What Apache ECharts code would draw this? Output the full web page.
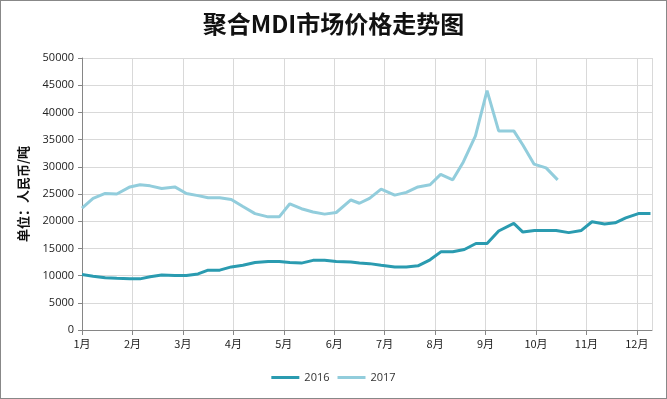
<!DOCTYPE html>
<html>
<head>
<meta charset="utf-8">
<script src="https://cdn.jsdelivr.net/npm/echarts@6/dist/echarts.min.js"></script>
<style>
    html, body { margin: 0; padding: 0; background: #fff; }
    #chart { width: 665px; height: 397px; border: 1px solid #888; }
</style>
</head>
<body>
<div id="chart"></div>
<script>
// 月份位置（按周）
var weeks2017 = [1.00, 1.22, 1.46, 1.69, 1.95, 2.15, 2.35, 2.58, 2.84, 3.07, 3.30, 3.50, 3.73, 3.96,
    4.19, 4.43, 4.69, 4.91, 5.12, 5.35, 5.58, 5.81, 6.04, 6.33, 6.50, 6.70, 6.93, 7.20, 7.43, 7.66,
    7.90, 8.11, 8.35, 8.56, 8.80, 9.03, 9.26, 9.56, 9.74, 9.96, 10.20, 10.43];
var price2017 = [22400, 24200, 25100, 25000, 26300, 26700, 26500, 26000, 26300, 25100, 24700, 24300, 24300, 24000,
    22700, 21400, 20800, 20800, 23200, 22300, 21700, 21300, 21600, 23900, 23300, 24200, 25900, 24800, 25300, 26300,
    26700, 28600, 27600, 30900, 35700, 44000, 36600, 36600, 34000, 30500, 29800, 27600];

var weeks2016 = [1.00, 1.22, 1.46, 1.69, 1.95, 2.15, 2.35, 2.58, 2.84, 3.07, 3.30, 3.50, 3.73, 3.96,
    4.19, 4.43, 4.69, 4.91, 5.12, 5.35, 5.58, 5.81, 6.04, 6.33, 6.50, 6.70, 6.93, 7.20, 7.43, 7.66,
    7.90, 8.12, 8.35, 8.58, 8.81, 9.03, 9.26, 9.56, 9.74, 9.97, 10.20, 10.40, 10.65, 10.90, 11.11,
    11.36, 11.57, 11.78, 12.03, 12.27];
var price2016 = [10200, 9900, 9600, 9500, 9400, 9400, 9800, 10100, 10000, 10000, 10300, 11000, 11000, 11600,
    11900, 12400, 12600, 12600, 12400, 12300, 12800, 12800, 12600, 12500, 12300, 12200, 11900, 11600, 11600, 11800,
    12900, 14400, 14400, 14800, 15900, 15900, 18200, 19600, 18000, 18300, 18300, 18300, 17900, 18300, 19900,
    19500, 19700, 20600, 21400, 21400];

var yTicks = [0, 5000, 10000, 15000, 20000, 25000, 30000, 35000, 40000, 45000, 50000];

function pairs(xs, ys) {
    var out = [];
    for (var i = 0; i < xs.length; i++) {
        out.push([xs[i], ys[i]]);
    }
    return out;
}

var chart = echarts.init(document.getElementById('chart'));
chart.setOption({
    animation: false,
    textStyle: { fontFamily: '"Noto Sans CJK SC", "Noto Sans", sans-serif' },
    title: {
        text: '聚合MDI市场价格走势图',
        left: 'center',
        top: 6,
        textStyle: { fontSize: 24, fontWeight: 'bold', color: '#111' }
    },
    legend: {
        bottom: 10,
        left: 'center',
        itemWidth: 28,
        itemHeight: 3,
        itemGap: 8,
        icon: 'rect',
        textStyle: { fontSize: 11, color: '#333', fontFamily: '"Open Sans", sans-serif' },
        data: ['2016', '2017']
    },
    grid: { left: 81, right: 14, top: 57, bottom: 68 },
    xAxis: {
        type: 'value',
        min: 1,
        max: 12.3,
        interval: 1,
        axisLine: { lineStyle: { color: '#868686' } },
        axisTick: { show: true, length: 5, lineStyle: { color: '#868686' } },
        axisLabel: {
            color: '#222',
            fontSize: 11,
            showMaxLabel: false,
            formatter: function (v) {
                return Math.round(v) === v ? v + '月' : '';
            }
        },
        splitLine: { show: true, lineStyle: { color: '#d9d9d9' } }
    },
    yAxis: {
        type: 'value',
        min: yTicks[0],
        max: yTicks[yTicks.length - 1],
        interval: 5000,
        name: '单位：人民币/吨',
        nameLocation: 'middle',
        nameGap: 52,
        nameTextStyle: { fontSize: 13, fontWeight: 'bold', color: '#111' },
        axisLine: { show: true, lineStyle: { color: '#868686' } },
        axisTick: { show: true, length: 4, lineStyle: { color: '#868686' } },
        axisLabel: {
            color: '#222',
            fontSize: 11,
            margin: 8,
            fontFamily: '"Open Sans", sans-serif',
            formatter: function (v) { return String(v); }
        },
        splitLine: { lineStyle: { color: '#d9d9d9' } }
    },
    series: [{
        name: '2016',
        type: 'line',
        data: pairs(weeks2016, price2016),
        showSymbol: false,
        symbol: 'none',
        lineStyle: { width: 3, color: '#2a9bb0' },
        itemStyle: { color: '#2a9bb0' }
    }, {
        name: '2017',
        type: 'line',
        data: pairs(weeks2017, price2017),
        showSymbol: false,
        symbol: 'none',
        lineStyle: { width: 3, color: '#92cddc' },
        itemStyle: { color: '#92cddc' }
    }]
});
</script>
</body>
</html>
